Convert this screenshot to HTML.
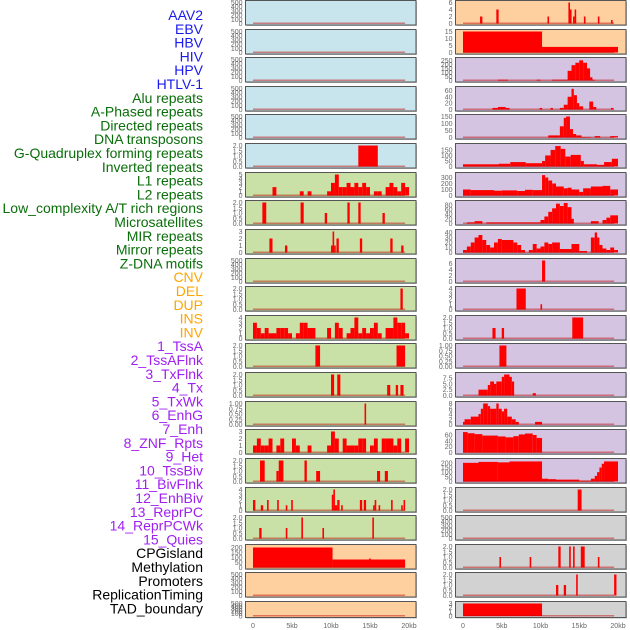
<!DOCTYPE html>
<html><head><meta charset="utf-8"><style>
html,body{margin:0;padding:0;background:#fff;}
svg{display:block;font-family:"Liberation Sans",sans-serif;}
</style></head><body>
<svg id="chart" width="630" height="630" viewBox="0 0 630 630"></svg>
<script>
const trackLabels = ["AAV2","EBV","HBV","HIV","HPV","HTLV-1","Alu repeats","A-Phased repeats","Directed repeats","DNA transposons","G-Quadruplex forming repeats","Inverted repeats","L1 repeats","L2 repeats","Low_complexity A/T rich regions","Microsatellites","MIR repeats","Mirror repeats","Z-DNA motifs","CNV","DEL","DUP","INS","INV","1_TssA","2_TssAFlnk","3_TxFlnk","4_Tx","5_TxWk","6_EnhG","7_Enh","8_ZNF_Rpts","9_Het","10_TssBiv","11_BivFlnk","12_EnhBiv","13_ReprPC","14_ReprPCWk","15_Quies","CPGisland","Methylation","Promoters","ReplicationTiming","TAD_boundary"];
const labelGroupColors = ["#1a1aee","#1a1aee","#1a1aee","#1a1aee","#1a1aee","#1a1aee","#0a6e0a","#0a6e0a","#0a6e0a","#0a6e0a","#0a6e0a","#0a6e0a","#0a6e0a","#0a6e0a","#0a6e0a","#0a6e0a","#0a6e0a","#0a6e0a","#0a6e0a","#ffa500","#ffa500","#ffa500","#ffa500","#ffa500","#a020f0","#a020f0","#a020f0","#a020f0","#a020f0","#a020f0","#a020f0","#a020f0","#a020f0","#a020f0","#a020f0","#a020f0","#a020f0","#a020f0","#a020f0","#000","#000","#000","#000","#000"];
const xTickKb = [0,5,10,15,20];
const xTickLabels = ["0","5kb","10kb","15kb","20kb"];

const T500 = ["0","100","200","300","400","500"];
const T2 = ["0.0","0.5","1.0","1.5","2.0"];
const leftBg = ["b","b","b","b","b","b","g","g","g","g","g","g","g","g","g","g","g","g","g","p","p","p"];
const leftTicks = [T500,T500,T500,T500,T500,T2,["0","1","2","3","4","5"],T2,["0","1","2","3"],T500,T2,["0","1","2","3","4"],T2,T2,["0.00","0.25","0.50","0.75","1.00"],["0","1","2","3"],T2,["0","1","2","3","4"],T2,["0","50","100","150","200"],T500,T500];
const leftMax = [500,500,500,500,500,2,5,2,3,500,2,4,2,2,1,3,2,4,2,210,500,500];
const leftRow6Bins = [0,0,0,0,0,2,0,0,0,0,0,0,1,0,1,0,0,0,0,1,3,5,2,2,3,2,3,2,3,2,0,1,1,0,2,3,2,1,3,2];
const leftRow11Bins = [3,2,1,2,1,1,2,2,2,1,0,1,3,3,2,2,0,0,0,2,0,3,2,0,1,2,4,1,2,1,2,3,1,0,2,2,4,3,3,1];
const leftRow15Bins = [1,2,1,1,2,0,1,2,0,0,2,1,0,0,1,0,0,0,0,1,3,2,0,2,1,1,1,2,2,0,1,2,0,2,2,2,1,2,0,2];
const leftBars = [
 [],[],[],[],[],
 [[13.5,16,2]],
 "row6",
 [[1.2,1.7,2],[6.1,6.5,2],[9.2,9.5,1],[12.1,12.4,2],[13.5,13.8,2],[16.6,16.9,1]],
 [[2.1,2.5,2],[4.1,4.4,1],[10.0,10.2,1],[10.2,10.4,3],[10.4,10.6,1],[10.7,11.0,2],[13.7,14.0,2],[17.6,17.9,2],[19.0,19.3,1]],
 [],
 [[18.9,19.2,2]],
 "row11",
 [[8.0,8.6,2],[18.4,19.5,2]],
 [[10.0,10.4,2],[10.8,11.2,2],[17.2,17.6,1],[18.3,18.6,1],[18.9,19.3,1]],
 [[14.3,14.5,1]],
 "row15",
 [[0.9,1.5,2],[3.0,3.3,1],[3.3,3.9,2],[6.6,6.9,2],[8.1,8.6,1],[15.9,16.3,1],[16.9,17.3,1]],
 [[0.0,0.3,2],[1.0,1.3,1],[1.8,2.0,2],[3.1,3.3,2],[4.2,4.4,1],[4.9,5.1,2],[10.1,10.3,3],[10.3,10.5,4],[10.5,10.8,1],[10.8,11.1,2],[11.3,11.5,1],[13.7,14.0,2],[14.2,14.5,2],[15.4,15.6,1],[15.6,15.8,2],[16.1,16.3,1],[17.7,17.9,2],[19.0,19.2,1],[19.3,19.5,2]],
 [[0.8,1.1,1],[4.2,4.4,1],[6.2,6.4,2],[8.9,9.1,1],[15.3,15.5,2]],
 [[0,10.2,200],[10.2,19.5,80],[14.9,15.1,90]],
 [],[]
];

const rightBg = ["p","p","l","l","l","l","l","l","l","l","l","l","l","l","l","l","l","x","x","x","x","x"];
const rightTicks = [["0","2","4","6"],["0","5","10","15"],["0","50","100","150","200","250"],["0","20","40","60"],["0","50","100","150"],["0","50","100","150"],["0","100","200","300"],["0","20","40","60","80"],["0","10","20","30","40"],["0","2","4","6"],["0","1","2","3","4"],T2,["0.00","0.25","0.50","0.75","1.00"],["0.0","2.5","5.0","7.5"],["0","2","4","6","8"],["0","20","40","60"],["0","50","100","150","200"],T2,T500,T2,T2,["0","1","2","3"]];
const rightMax = [6,15,260,66,150,190,350,90,42,7,4,2,1,9,8,72,225,2,500,2,2,3];
const rightBars = [
 [[2.2,2.5,2],[4.3,4.6,4],[10.9,11.1,2],[13.6,13.8,6],[13.8,14.0,4],[14.2,14.4,2],[14.4,14.6,4],[15.6,15.8,2],[17.4,17.6,2],[19.1,19.3,1]],
 [[0,10.2,15],[10.2,20,4]],
 [[4.5,5.8,10],[9.5,10,10],[11.5,13.5,10],[13.5,14,120],[14,14.5,190],[14.5,15,220],[15,15.5,250],[15.5,16,220],[16,16.4,150],[16.4,16.7,40],[16.7,17,10]],
 [[3.8,4.5,5],[4.5,5.5,8],[5.5,6,5],[9.9,10.2,5],[11.3,11.6,5],[12.5,13,5],[13,13.5,15],[13.5,14,40],[14,14.3,65],[14.3,14.7,45],[14.7,15,20],[15,15.5,10],[16.3,16.8,25],[16.8,17.2,8],[19.1,19.4,5]],
 [[11,12.5,15],[12.5,13,80],[13,13.3,140],[13.3,13.8,150],[13.8,14.2,60],[14.2,14.6,25],[14.6,15.3,15],[15.3,16.5,3],[17,17.7,10],[19,20,10]],
 [[0,4.6,20],[4.6,6.1,25],[6.1,8.1,40],[8.1,10.2,30],[10.2,10.6,50],[10.6,11.3,100],[11.3,11.9,150],[11.9,12.6,185],[12.6,13.2,160],[13.2,13.9,90],[13.9,15.2,105],[15.2,15.6,50],[15.6,17.3,20],[17.3,18.2,15],[18.2,19.2,40],[19.2,20,70]],
 [[0,1,100],[1,4,90],[4,5,80],[5,7,85],[7,8,75],[8,9,95],[9,10.2,90],[10.2,10.6,340],[10.6,11,300],[11,11.5,250],[11.5,12,200],[12,13,150],[13,13.5,120],[13.5,14,130],[14,15,100],[15,15.5,60],[15.5,16.5,120],[16.5,18,150],[18,19,160],[19,20,100]],
 [[0.5,1.5,5],[1.5,2.5,10],[3,10,5],[10,10.5,15],[10.5,11,30],[11,11.5,50],[11.5,12,65],[12,12.5,85],[12.5,13,75],[13,13.5,88],[13.5,14,70],[14,14.3,20],[16.5,17.5,10],[18,18.5,15],[18.5,19,25],[19,20,35]],
 [[0,0.5,5],[0.5,1,12],[1,1.5,20],[1.5,2,30],[2,2.5,35],[2.5,3,25],[3,3.5,15],[3.5,4,10],[4,4.5,20],[4.5,5,27],[5,6.5,25],[6.5,7,20],[7,7.5,15],[7.5,8,5],[8.5,9,5],[9,9.5,17],[9.5,10,8],[10,10.5,12],[10.5,11,20],[11,11.5,17],[11.5,12.5,20],[12.5,14,7],[14,15,17],[15,16,3],[16.5,17,30],[17,17.3,40],[17.3,17.6,30],[17.6,18,15],[18,18.5,8],[18.5,19,5],[19,19.5,10],[19.5,20,5]],
 [[10.2,10.6,7]],
 [[6.9,8.1,4],[10.0,10.2,1]],
 [[3.8,4.2,1],[5.0,5.3,1],[14.1,15.5,2]],
 [[4.7,5.6,1]],
 [[2,3.2,2.5],[3.2,3.5,4.5],[3.5,4,6],[4,4.3,5],[4.3,5,6],[5,5.3,8],[5.3,6,9],[6,6.3,8],[6.3,6.6,6],[9,9.4,1]],
 [[0,0.2,1],[0.2,1,2],[1,2,3],[2,2.3,4],[2.3,2.6,6],[2.6,3.2,8],[3.2,3.5,7],[3.5,4.3,6],[4.3,4.6,8],[4.6,5,6],[5,5.3,5],[5.3,5.7,6],[5.7,6.3,3],[6.3,6.8,2],[6.8,7.2,1],[9.3,10.2,1]],
 [[0,0.6,70],[0.6,1.5,66],[1.5,2.5,63],[2.5,4.5,58],[4.5,5.5,55],[5.5,6.5,52],[6.5,7.2,56],[7.2,8,62],[8,9,65],[9,9.5,60],[9.5,10.2,50]],
 [[0,2,200],[2,4.5,210],[4.5,6,205],[6,8,215],[8,10.2,215],[10.2,11,30],[11,12,25],[12,15,20],[15,16.5,10],[16.5,17,30],[17,17.3,60],[17.3,17.6,100],[17.6,17.9,150],[17.9,18.2,190],[18.2,20,215]],
 [[14.8,15.3,2]],
 [],
 [[4.7,4.9,1],[8.6,8.8,1],[12.3,12.6,2],[13.7,13.9,2],[14.2,14.4,2],[15.2,15.7,2],[17.4,17.6,1]],
 [[12.0,12.3,1],[13.0,13.3,1],[14.6,14.8,2],[19.5,19.8,2]],
 [[0,10.2,3]]
];

const NS = "http://www.w3.org/2000/svg";
const svg = document.getElementById("chart");
function mk(tag, attrs, parent){ const e=document.createElementNS(NS,tag); for(const k in attrs) e.setAttribute(k,attrs[k]); (parent||svg).appendChild(e); return e; }
const bgColors = {b:"#c8e4ec", g:"#c9e1a6", p:"#fed09f", l:"#d5c4e1", x:"#d2d2d2"};
const binSets = {row6:leftRow6Bins, row11:leftRow11Bins, row15:leftRow15Bins};
function binsToBars(b){ const w=20/b.length; const out=[]; b.forEach((v,i)=>{ if(v>0) out.push([i*w,(i+1)*w,v]); }); return out; }

// labels
trackLabels.forEach((t,i)=>{
  const el = mk("text",{x:203,y:20+i*13.8,"text-anchor":"end","font-size":"14",fill:labelGroupColors[i]});
  el.textContent = t;
  
  
});

function drawColumn(x0, x1, kbScale, kb0px, bgs, ticks, maxes, bars, side){
  for(let r=0;r<22;r++){
    const top = Math.round(r*28.62)+0.5;
    const h = r===21 ? 16 : 24.5;
    const g = mk("g",{});
    
    
    mk("rect",{x:x0+1,y:top+1,width:x1-x0,height:h,fill:"#bbb"},g);
    mk("rect",{x:x0,y:top,width:x1-x0,height:h,fill:bgColors[bgs[r]],stroke:"#555","stroke-width":1},g);
    const y0 = top+h-1.5, yTop = top+2;
    const ys = v => y0 - (v/maxes[r])*(y0-yTop);
    const xs = kb => kb0px + kb*kbScale;
    let list = bars[r];
    if(typeof list === "string") list = binsToBars(binSets[list]);
    list.forEach(b=>{
      const xa = xs(b[0]), xb = Math.max(xs(b[1]), xa+1.6);
      const rect = mk("rect",{x:xa,y:ys(b[2]),width:xb-xa,height:y0-ys(b[2]),fill:"#ff0000"},g);
      
      
    });
    mk("rect",{x:xs(0),y:y0-1,width:xs(19.5)-xs(0),height:1.5,fill:"rgba(190,0,0,0.45)"},g);
    ticks[r].forEach(t=>{
      const v = parseFloat(t);
      const tl = mk("text",{x:x0-3,y:ys(v)+2.5,"text-anchor":"end","font-size":"7",fill:"#666"},g);
      tl.textContent = t;
      
      
    });
  }
  xTickKb.forEach((k,i)=>{
    const tl = mk("text",{x:kb0px+k*kbScale,y:628,"text-anchor":"middle","font-size":"7",fill:"#666"});
    tl.textContent = xTickLabels[i];
    
    
  });
}
drawColumn(245.5, 416, 7.8, 253, leftBg, leftTicks, leftMax, leftBars, 'left');
drawColumn(455.5, 626, 7.75, 463, rightBg, rightTicks, rightMax, rightBars, 'right');
</script>
</body></html>
